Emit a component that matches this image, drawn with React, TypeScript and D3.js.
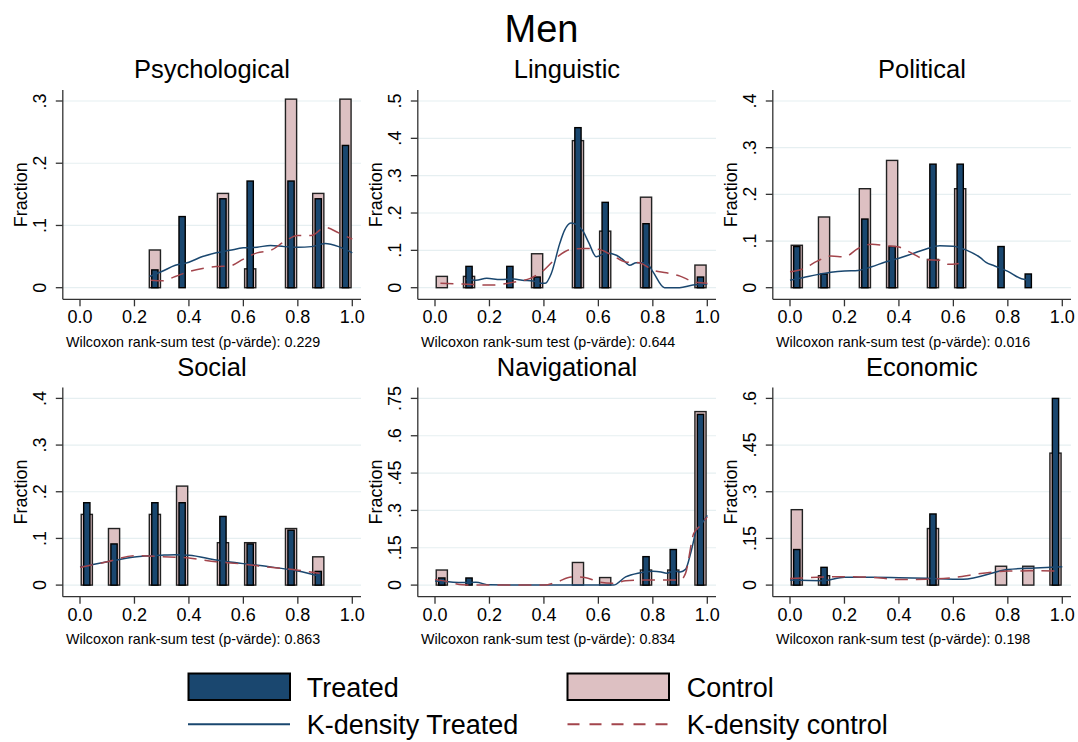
import React from "react";
import * as d3 from "d3";

const FONT = "'Liberation Sans', Arial, Helvetica, sans-serif";
const NAVY = "#1a476f";
const PINK = "#ddc0c2";
const RED = "#a3454c";
const GRID = "#e6eff1";

// bin centres shared by all panels
const binCenters = [0.025, 0.125, 0.275, 0.375, 0.525, 0.625, 0.775, 0.875, 0.975];
const xTicks = [0, 0.2, 0.4, 0.6, 0.8, 1.0];
const xTickLabels = ["0.0", "0.2", "0.4", "0.6", "0.8", "1.0"];

const panelTitles = ["Psychological", "Linguistic", "Political", "Social", "Navigational", "Economic"];
const pValues = ["0.229", "0.644", "0.016", "0.863", "0.834", "0.198"];

const yTicksPsych = [0, 0.1, 0.2, 0.3];
const yLabelsPsych = ["0", ".1", ".2", ".3"];
const yTicksLing = [0, 0.1, 0.2, 0.3, 0.4, 0.5];
const yLabelsLing = ["0", ".1", ".2", ".3", ".4", ".5"];
const yTicksPol = [0, 0.1, 0.2, 0.3, 0.4];
const yLabelsPol = ["0", ".1", ".2", ".3", ".4"];
const yTicksSoc = [0, 0.1, 0.2, 0.3, 0.4];
const yLabelsSoc = ["0", ".1", ".2", ".3", ".4"];
const yTicksNav = [0, 0.15, 0.3, 0.45, 0.6, 0.75];
const yLabelsNav = ["0", ".15", ".3", ".45", ".6", ".75"];
const yTicksEcon = [0, 0.15, 0.3, 0.45, 0.6];
const yLabelsEcon = ["0", ".15", ".3", ".45", ".6"];

// histogram fractions, aligned with binCenters
const psychTreated = [0, 0, 0.0286, 0.1143, 0.1429, 0.1714, 0.1714, 0.1429, 0.2286];
const psychControl = [0, 0, 0.0606, 0, 0.1515, 0.0303, 0.303, 0.1515, 0.303];
const lingTreated = [0, 0.0571, 0.0571, 0.0286, 0.4286, 0.2286, 0.1714, 0, 0.0286];
const lingControl = [0.0303, 0.0303, 0, 0.0909, 0.3939, 0.1515, 0.2424, 0, 0.0606];
const polTreated = [0.0882, 0.0294, 0.1471, 0.0882, 0.2647, 0.2647, 0.0882, 0.0294, 0];
const polControl = [0.0909, 0.1515, 0.2121, 0.2727, 0.0606, 0.2121, 0, 0, 0];
const socTreated = [0.1765, 0.0882, 0.1765, 0.1765, 0.1471, 0.0882, 0.1176, 0.0294, 0];
const socControl = [0.1515, 0.1212, 0.1515, 0.2121, 0.0909, 0.0909, 0.1212, 0.0606, 0];
const navTreated = [0.0286, 0.0286, 0, 0, 0, 0, 0.1143, 0.1429, 0.6857];
const navControl = [0.0606, 0, 0, 0, 0.0909, 0.0303, 0.0606, 0.0606, 0.697];
const econTreated = [0.1143, 0.0571, 0, 0, 0.2286, 0, 0, 0, 0.6];
const econControl = [0.2424, 0.0303, 0, 0, 0.1818, 0, 0.0606, 0.0606, 0.4242];

// kernel density curves [x, y]
const psychKT: [number, number][] = [[0.255, 0.018], [0.3, 0.026], [0.35, 0.036], [0.4, 0.041], [0.45, 0.05], [0.5, 0.056], [0.55, 0.06], [0.6, 0.064], [0.65, 0.065], [0.7, 0.068], [0.75, 0.066], [0.8, 0.065], [0.85, 0.066], [0.9, 0.071], [0.95, 0.066], [1.0, 0.056]];
const psychKC: [number, number][] = [[0.26, 0.012], [0.3, 0.011], [0.35, 0.018], [0.4, 0.026], [0.45, 0.031], [0.5, 0.034], [0.55, 0.035], [0.6, 0.046], [0.65, 0.056], [0.7, 0.06], [0.75, 0.074], [0.8, 0.084], [0.85, 0.084], [0.9, 0.097], [0.95, 0.088], [1.0, 0.078]];
const lingKT: [number, number][] = [[0.115, 0.022], [0.15, 0.02], [0.19, 0.025], [0.24, 0.022], [0.29, 0.023], [0.32, 0.02], [0.36, 0.018], [0.385, 0.012], [0.405, 0.012], [0.427, 0.038], [0.458, 0.118], [0.476, 0.154], [0.499, 0.173], [0.531, 0.162], [0.543, 0.152], [0.565, 0.12], [0.592, 0.083], [0.629, 0.093], [0.666, 0.087], [0.69, 0.075], [0.715, 0.06], [0.739, 0.067], [0.776, 0.067], [0.8, 0.043], [0.843, 0], [0.898, 0], [0.947, 0.007], [1.0, 0.01]];
const lingKC: [number, number][] = [[0.02, 0.012], [0.1, 0.01], [0.2, 0.007], [0.3, 0.016], [0.35, 0.025], [0.4, 0.047], [0.45, 0.083], [0.5, 0.103], [0.55, 0.105], [0.6, 0.103], [0.65, 0.087], [0.7, 0.069], [0.75, 0.067], [0.8, 0.047], [0.85, 0.04], [0.9, 0.031], [0.95, 0.016], [1.0, 0.012]];
const polKT: [number, number][] = [[0.0, 0.016], [0.05, 0.022], [0.1, 0.028], [0.15, 0.033], [0.2, 0.036], [0.25, 0.037], [0.3, 0.045], [0.35, 0.055], [0.4, 0.063], [0.45, 0.073], [0.5, 0.083], [0.55, 0.09], [0.6, 0.089], [0.65, 0.08], [0.7, 0.064], [0.72, 0.054], [0.75, 0.047], [0.8, 0.035], [0.85, 0.019], [0.88, 0.016]];
const polKC: [number, number][] = [[0.0, 0.034], [0.05, 0.041], [0.1, 0.057], [0.15, 0.068], [0.2, 0.066], [0.25, 0.084], [0.3, 0.093], [0.35, 0.09], [0.4, 0.087], [0.45, 0.073], [0.5, 0.06], [0.55, 0.059], [0.58, 0.05], [0.62, 0.052]];
const socKT: [number, number][] = [[0.0, 0.039], [0.1, 0.05], [0.2, 0.06], [0.3, 0.064], [0.35, 0.065], [0.4, 0.064], [0.5, 0.054], [0.6, 0.046], [0.7, 0.039], [0.8, 0.03], [0.88, 0.019]];
const socKC: [number, number][] = [[0.0, 0.038], [0.1, 0.05], [0.2, 0.063], [0.3, 0.061], [0.4, 0.058], [0.5, 0.05], [0.6, 0.045], [0.7, 0.038], [0.8, 0.032], [0.88, 0.025]];
const navKT: [number, number][] = [[0.0, 0.016], [0.05, 0.013], [0.1, 0.01], [0.15, 0.011], [0.2, 0.001], [0.3, 0], [0.4, 0], [0.5, 0], [0.6, 0], [0.655, 0], [0.7, 0.033], [0.75, 0.049], [0.8, 0.056], [0.83, 0.053], [0.85, 0.048], [0.88, 0.057], [0.9, 0.053], [0.92, 0.063], [0.94, 0.133], [0.96, 0.22], [0.98, 0.247], [1.0, 0.28]];
const navKC: [number, number][] = [[0.0, 0.023], [0.05, 0.013], [0.1, 0.001], [0.2, 0], [0.3, 0], [0.4, 0], [0.45, 0.013], [0.5, 0.033], [0.55, 0.031], [0.6, 0.013], [0.65, 0.007], [0.7, 0.017], [0.75, 0.02], [0.8, 0.02], [0.85, 0.02], [0.9, 0.02], [0.92, 0.047], [0.95, 0.207], [0.97, 0.234], [1.0, 0.274]];
const econKT: [number, number][] = [[0.0, 0.016], [0.12, 0.014], [0.2, 0.025], [0.3, 0.025], [0.4, 0.024], [0.5, 0.022], [0.635, 0.019], [0.8, 0.05], [0.9, 0.055], [1.0, 0.059]];
const econKC: [number, number][] = [[0.0, 0.021], [0.1, 0.025], [0.2, 0.027], [0.3, 0.025], [0.4, 0.018], [0.5, 0.019], [0.6, 0.024], [0.7, 0.037], [0.8, 0.045], [0.9, 0.046], [1.0, 0.045]];

type PanelProps = {
  ox: number;
  oy: number;
  title: string;
  pval: string;
  yTicks: number[];
  yLabels: string[];
  treated: number[];
  control: number[];
  kT: [number, number][];
  kC: [number, number][];
};

function Panel({ ox, oy, title, pval, yTicks, yLabels, treated, control, kT, kC }: PanelProps) {
  const axisLeft = ox + 62.8;
  const axisRight = ox + 361;
  const axisTop = oy + 90;
  const axisBottom = oy + 299.3;
  const x = d3.scaleLinear().domain([0, 1]).range([ox + 80, ox + 352.3]);
  const topTick = yTicks[yTicks.length - 1];
  const y = d3.scaleLinear().domain([0, topTick]).range([oy + 287.7, oy + 101]);
  const wC = x(0.041) - x(0);
  const wT = x(0.023) - x(0);
  const line = d3
    .line<[number, number]>()
    .x((d) => x(d[0]))
    .y((d) => y(d[1]))
    .curve(d3.curveMonotoneX);
  const cx = (axisLeft + axisRight) / 2;
  return (
    <g>
      <text x={cx} y={oy + 78.3} textAnchor="middle" fontSize={25.5} fontFamily={FONT} fill="#000">
        {title}
      </text>
      {yTicks.map((t, i) => (
        <line key={"g" + i} x1={axisLeft} x2={axisRight} y1={y(t)} y2={y(t)} stroke={GRID} strokeWidth={1.2} />
      ))}
      {control.map((v, i) =>
        v > 0 ? (
          <rect key={"c" + i} x={x(binCenters[i]) - wC / 2} y={y(v)} width={wC} height={y(0) - y(v)} fill={PINK} stroke="#222" strokeWidth={1.4} />
        ) : null
      )}
      {treated.map((v, i) =>
        v > 0 ? (
          <rect key={"t" + i} x={x(binCenters[i]) - wT / 2} y={y(v)} width={wT} height={y(0) - y(v)} fill={NAVY} stroke="#000" strokeWidth={1.4} />
        ) : null
      )}
      <path d={line(kT) || ""} fill="none" stroke={NAVY} strokeWidth={1.5} />
      <path d={line(kC) || ""} fill="none" stroke={RED} strokeWidth={1.5} strokeDasharray="13,8" />
      <line x1={axisLeft} x2={axisLeft} y1={axisTop} y2={axisBottom} stroke="#333" strokeWidth={1.3} />
      <line x1={axisLeft} x2={axisRight} y1={axisBottom} y2={axisBottom} stroke="#333" strokeWidth={1.3} />
      {yTicks.map((t, i) => (
        <g key={"yt" + i}>
          <line x1={axisLeft - 7} x2={axisLeft} y1={y(t)} y2={y(t)} stroke="#333" strokeWidth={1.3} />
          <text transform={`translate(${ox + 46},${y(t)}) rotate(-90)`} textAnchor="middle" fontSize={18} fontFamily={FONT} fill="#000">
            {yLabels[i]}
          </text>
        </g>
      ))}
      {xTicks.map((t, i) => (
        <g key={"xt" + i}>
          <line x1={x(t)} x2={x(t)} y1={axisBottom} y2={axisBottom + 7} stroke="#333" strokeWidth={1.3} />
          <text x={x(t)} y={oy + 323.3} textAnchor="middle" fontSize={18} fontFamily={FONT} fill="#000">
            {xTickLabels[i]}
          </text>
        </g>
      ))}
      <text transform={`translate(${ox + 27},${(axisTop + axisBottom) / 2}) rotate(-90)`} textAnchor="middle" fontSize={18} fontFamily={FONT} fill="#000">
        Fraction
      </text>
      <text x={ox + 66} y={oy + 346.5} fontSize={14.3} fontFamily={FONT} fill="#000">
        {"Wilcoxon rank-sum test (p-värde): " + pval}
      </text>
    </g>
  );
}

export default function App() {
  const colX = [0, 355, 710];
  const rowY = [0, 297.4];
  return (
    <svg width={1078} height={742} style={{ position: "absolute", left: 0, top: 0, background: "#fff" }}>
      <rect x={0} y={0} width={1078} height={742} fill="#fff" />
      <text x={541.5} y={41.7} textAnchor="middle" fontSize={38} fontFamily={FONT} fill="#000">
        Men
      </text>
      <Panel ox={colX[0]} oy={rowY[0]} title={panelTitles[0]} pval={pValues[0]} yTicks={yTicksPsych} yLabels={yLabelsPsych} treated={psychTreated} control={psychControl} kT={psychKT} kC={psychKC} />
      <Panel ox={colX[1]} oy={rowY[0]} title={panelTitles[1]} pval={pValues[1]} yTicks={yTicksLing} yLabels={yLabelsLing} treated={lingTreated} control={lingControl} kT={lingKT} kC={lingKC} />
      <Panel ox={colX[2]} oy={rowY[0]} title={panelTitles[2]} pval={pValues[2]} yTicks={yTicksPol} yLabels={yLabelsPol} treated={polTreated} control={polControl} kT={polKT} kC={polKC} />
      <Panel ox={colX[0]} oy={rowY[1]} title={panelTitles[3]} pval={pValues[3]} yTicks={yTicksSoc} yLabels={yLabelsSoc} treated={socTreated} control={socControl} kT={socKT} kC={socKC} />
      <Panel ox={colX[1]} oy={rowY[1]} title={panelTitles[4]} pval={pValues[4]} yTicks={yTicksNav} yLabels={yLabelsNav} treated={navTreated} control={navControl} kT={navKT} kC={navKC} />
      <Panel ox={colX[2]} oy={rowY[1]} title={panelTitles[5]} pval={pValues[5]} yTicks={yTicksEcon} yLabels={yLabelsEcon} treated={econTreated} control={econControl} kT={econKT} kC={econKC} />
      {/* legend */}
      <rect x={188.5} y={673.5} width={101.5} height={26.5} fill={NAVY} stroke="#000" strokeWidth={2} />
      <text x={306.7} y={696.7} fontSize={27} fontFamily={FONT} fill="#000">Treated</text>
      <rect x={567.5} y={673.5} width={101.5} height={26.5} fill={PINK} stroke="#000" strokeWidth={2} />
      <text x={686.7} y={696.7} fontSize={27} fontFamily={FONT} fill="#000">Control</text>
      <line x1={188} x2={290} y1={724.3} y2={724.3} stroke={NAVY} strokeWidth={2} />
      <text x={306.7} y={734} fontSize={27} fontFamily={FONT} fill="#000">K-density Treated</text>
      <line x1={567.5} x2={669} y1={724.3} y2={724.3} stroke={RED} strokeWidth={2} strokeDasharray="12,10" />
      <text x={686.7} y={734} fontSize={27} fontFamily={FONT} fill="#000">K-density control</text>
    </svg>
  );
}
